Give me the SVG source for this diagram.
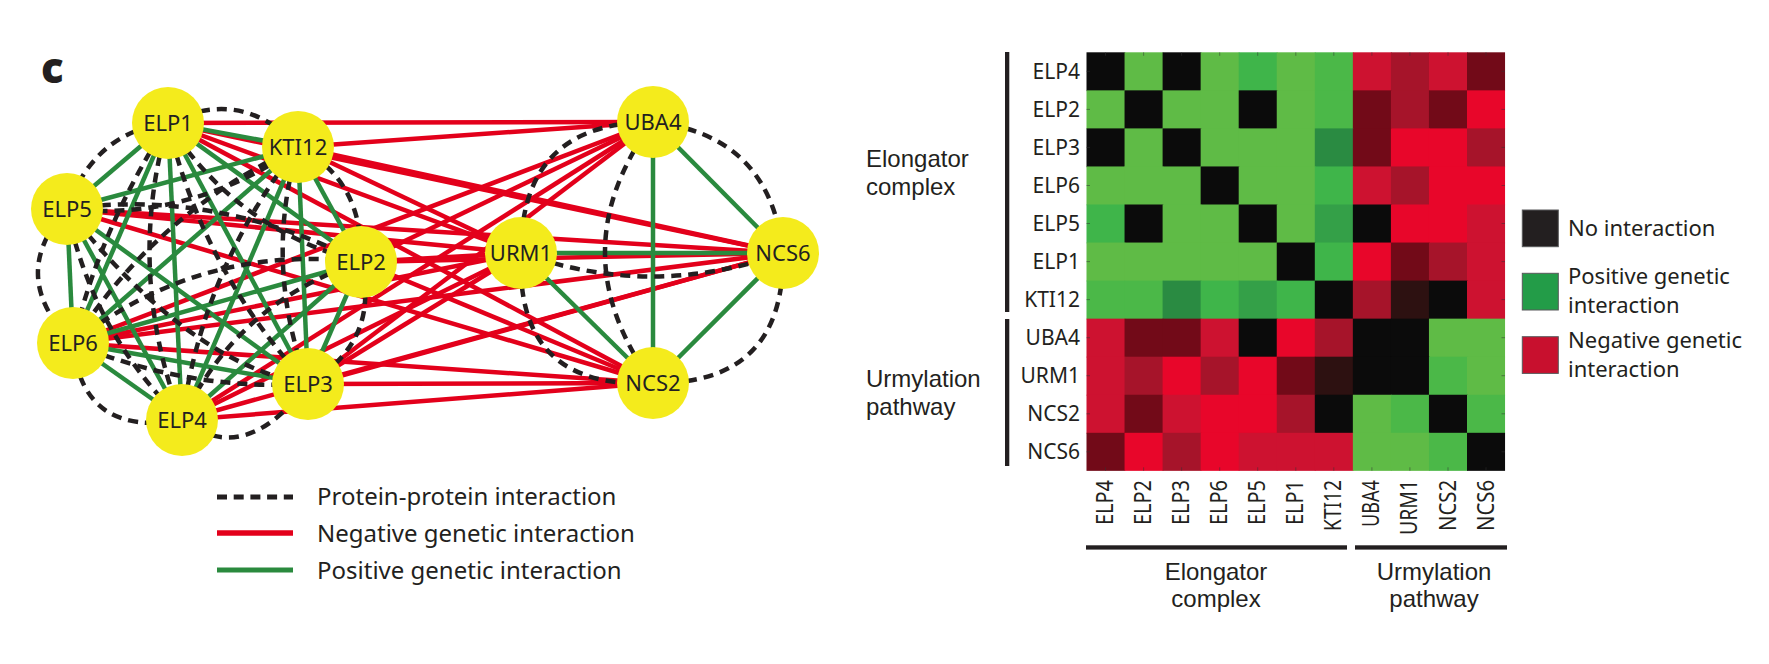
<svg xmlns="http://www.w3.org/2000/svg" width="1769" height="664" viewBox="0 0 1769 664">
<style>
text{font-family:"Noto Sans","Liberation Sans",sans-serif;fill:#231f20}
.nl{font-size:22px;text-anchor:middle}
.lg{font-size:24px}
.rl{font-size:21px;text-anchor:end}
.cl{font-size:23px;text-anchor:end}
.gl{font-family:"Liberation Sans","Noto Sans",sans-serif;font-size:24px}
.ll{font-size:22px}
circle.n{fill:#f4eb1c}
.red line{stroke:#e3001b;stroke-width:4.5}
.grn line{stroke:#2a8a3e;stroke-width:4.5}
.ppi path{fill:none;stroke:#231f20;stroke-width:4.5;stroke-dasharray:10 7}
.k{fill:#0b0b0b}.g{fill:#5fbb46}.gb{fill:#3fb54a}.gm{fill:#4bb848}.gd{fill:#2a8b42}.gd2{fill:#34a048}
.r1{fill:#e8062a}.r2{fill:#cd1230}.r3{fill:#a6142a}.r4{fill:#720a18}.r5{fill:#2d1111}
.bar{fill:#231f20}
.tk line{stroke:#333;stroke-width:1;opacity:.5}
</style>

<text x="41" y="83" style="font-size:42px;font-weight:900">c</text>

<g id="connectors">
<g class="red">
<line x1="168" y1="123" x2="653" y2="122"/><line x1="168" y1="123" x2="521" y2="253"/><line x1="168" y1="123" x2="783" y2="253"/><line x1="168" y1="123" x2="653" y2="383"/>
<line x1="298" y1="147" x2="653" y2="122"/><line x1="298" y1="147" x2="521" y2="253"/><line x1="298" y1="147" x2="783" y2="253"/>
<line x1="67" y1="209" x2="521" y2="253"/><line x1="67" y1="209" x2="783" y2="253"/><line x1="67" y1="209" x2="653" y2="383"/>
<line x1="361" y1="262" x2="653" y2="122"/><line x1="361" y1="262" x2="521" y2="253"/><line x1="361" y1="262" x2="783" y2="253"/><line x1="361" y1="262" x2="653" y2="383"/>
<line x1="73" y1="343" x2="653" y2="122"/><line x1="73" y1="343" x2="521" y2="253"/><line x1="73" y1="343" x2="783" y2="253"/><line x1="73" y1="343" x2="653" y2="383"/>
<line x1="308" y1="384" x2="653" y2="122"/><line x1="308" y1="384" x2="521" y2="253"/><line x1="308" y1="384" x2="783" y2="253"/><line x1="308" y1="384" x2="653" y2="383"/>
<line x1="182" y1="420" x2="653" y2="122"/><line x1="182" y1="420" x2="521" y2="253"/><line x1="182" y1="420" x2="783" y2="253"/><line x1="182" y1="420" x2="653" y2="383"/>
</g>
<g class="grn">
<line x1="168" y1="123" x2="298" y2="147"/><line x1="168" y1="123" x2="67" y2="209"/><line x1="168" y1="123" x2="361" y2="262"/><line x1="168" y1="123" x2="73" y2="343"/><line x1="168" y1="123" x2="308" y2="384"/><line x1="168" y1="123" x2="182" y2="420"/>
<line x1="298" y1="147" x2="67" y2="209"/><line x1="298" y1="147" x2="361" y2="262"/><line x1="298" y1="147" x2="73" y2="343"/><line x1="298" y1="147" x2="308" y2="384"/><line x1="298" y1="147" x2="182" y2="420"/>
<line x1="67" y1="209" x2="73" y2="343"/><line x1="67" y1="209" x2="308" y2="384"/><line x1="67" y1="209" x2="182" y2="420"/>
<line x1="361" y1="262" x2="73" y2="343"/><line x1="361" y1="262" x2="308" y2="384"/><line x1="361" y1="262" x2="182" y2="420"/>
<line x1="73" y1="343" x2="308" y2="384"/><line x1="73" y1="343" x2="182" y2="420"/>
<line x1="653" y1="122" x2="653" y2="383"/><line x1="653" y1="122" x2="783" y2="253"/><line x1="521" y1="253" x2="783" y2="253"/><line x1="521" y1="253" x2="653" y2="383"/><line x1="653" y1="383" x2="783" y2="253"/>
</g>
<g class="ppi">
<path d="M168,123 Q242,86 298,147"/>
<path d="M168,123 Q94,132 67,209"/>
<path d="M67,209 Q6,276 73,343"/>
<path d="M73,343 Q82,438 182,420"/>
<path d="M182,420 Q245,468 308,384"/>
<path d="M308,384 Q381,341 361,262"/>
<path d="M298,147 Q364,180 361,262"/>
<path d="M168,123 Q125,272 182,420"/>
<path d="M168,123 Q100,228 73,343"/>
<path d="M168,123 Q203,272 308,384"/>
<path d="M168,123 Q237,231 361,262"/>
<path d="M298,147 Q203,268 182,420"/>
<path d="M298,147 Q263,265 308,384"/>
<path d="M298,147 Q156,212 73,343"/>
<path d="M298,147 Q190,222 67,209"/>
<path d="M67,209 Q214,188 361,262"/>
<path d="M67,209 Q190,365 308,384"/>
<path d="M67,209 Q92,332 182,420"/>
<path d="M73,343 Q200,243 361,262"/>
<path d="M73,343 Q186,391 308,384"/>
<path d="M361,262 Q237,302 182,420"/>
<path d="M653,122 Q521,122 521,253"/>
<path d="M653,122 Q557,252 653,383"/>
<path d="M653,122 Q770,135 783,253"/>
<path d="M521,253 Q652,300 783,253"/>
<path d="M521,253 Q515,390 653,383"/>
<path d="M653,383 Q785,385 783,253"/>
</g>
</g>

<g id="ELP1"><circle class="n" cx="168" cy="123" r="36"/><text class="nl" x="168" y="131">ELP1</text></g>
<g id="KTI12"><circle class="n" cx="298" cy="147" r="36"/><text class="nl" x="298" y="155">KTI12</text></g>
<g id="ELP5"><circle class="n" cx="67" cy="209" r="36"/><text class="nl" x="67" y="217">ELP5</text></g>
<g id="ELP2"><circle class="n" cx="361" cy="262" r="36"/><text class="nl" x="361" y="270">ELP2</text></g>
<g id="ELP6"><circle class="n" cx="73" cy="343" r="36"/><text class="nl" x="73" y="351">ELP6</text></g>
<g id="ELP3"><circle class="n" cx="308" cy="384" r="36"/><text class="nl" x="308" y="392">ELP3</text></g>
<g id="ELP4"><circle class="n" cx="182" cy="420" r="36"/><text class="nl" x="182" y="428">ELP4</text></g>
<g id="UBA4"><circle class="n" cx="653" cy="122" r="36"/><text class="nl" x="653" y="130">UBA4</text></g>
<g id="URM1"><circle class="n" cx="521" cy="253" r="36"/><text class="nl" x="521" y="261">URM1</text></g>
<g id="NCS6"><circle class="n" cx="783" cy="253" r="36"/><text class="nl" x="783" y="261">NCS6</text></g>
<g id="NCS2"><circle class="n" cx="653" cy="383" r="36"/><text class="nl" x="653" y="391">NCS2</text></g>

<g id="network-legend">
<line x1="217" y1="497" x2="293" y2="497" stroke="#231f20" stroke-width="5" stroke-dasharray="10 6.7"/>
<line x1="217" y1="533" x2="293" y2="533" stroke="#e3001b" stroke-width="5.5"/>
<line x1="217" y1="570" x2="293" y2="570" stroke="#2a8a3e" stroke-width="5"/>
<text class="lg" x="317" y="505">Protein-protein interaction</text>
<text class="lg" x="317" y="542">Negative genetic interaction</text>
<text class="lg" x="317" y="579">Positive genetic interaction</text>
</g>

<g id="heatmap">
<g transform="translate(1086.5,52.3) scale(38.05)">
<rect class="k" x="0" y="0" width="1.02" height="1.02"/><rect class="g" x="1" y="0" width="1.02" height="1.02"/><rect class="k" x="2" y="0" width="1.02" height="1.02"/><rect class="g" x="3" y="0" width="1.02" height="1.02"/><rect class="gb" x="4" y="0" width="1.02" height="1.02"/><rect class="g" x="5" y="0" width="1.02" height="1.02"/><rect class="gm" x="6" y="0" width="1.02" height="1.02"/><rect class="r2" x="7" y="0" width="1.02" height="1.02"/><rect class="r3" x="8" y="0" width="1.02" height="1.02"/><rect class="r2" x="9" y="0" width="1.02" height="1.02"/><rect class="r4" x="10" y="0" width="1" height="1.02"/>
<rect class="g" x="0" y="1" width="1.02" height="1.02"/><rect class="k" x="1" y="1" width="1.02" height="1.02"/><rect class="g" x="2" y="1" width="1.02" height="1.02"/><rect class="g" x="3" y="1" width="1.02" height="1.02"/><rect class="k" x="4" y="1" width="1.02" height="1.02"/><rect class="g" x="5" y="1" width="1.02" height="1.02"/><rect class="gm" x="6" y="1" width="1.02" height="1.02"/><rect class="r4" x="7" y="1" width="1.02" height="1.02"/><rect class="r3" x="8" y="1" width="1.02" height="1.02"/><rect class="r4" x="9" y="1" width="1.02" height="1.02"/><rect class="r1" x="10" y="1" width="1" height="1.02"/>
<rect class="k" x="0" y="2" width="1.02" height="1.02"/><rect class="g" x="1" y="2" width="1.02" height="1.02"/><rect class="k" x="2" y="2" width="1.02" height="1.02"/><rect class="g" x="3" y="2" width="1.02" height="1.02"/><rect class="g" x="4" y="2" width="1.02" height="1.02"/><rect class="g" x="5" y="2" width="1.02" height="1.02"/><rect class="gd" x="6" y="2" width="1.02" height="1.02"/><rect class="r4" x="7" y="2" width="1.02" height="1.02"/><rect class="r1" x="8" y="2" width="1.02" height="1.02"/><rect class="r1" x="9" y="2" width="1.02" height="1.02"/><rect class="r3" x="10" y="2" width="1" height="1.02"/>
<rect class="g" x="0" y="3" width="1.02" height="1.02"/><rect class="g" x="1" y="3" width="1.02" height="1.02"/><rect class="g" x="2" y="3" width="1.02" height="1.02"/><rect class="k" x="3" y="3" width="1.02" height="1.02"/><rect class="g" x="4" y="3" width="1.02" height="1.02"/><rect class="g" x="5" y="3" width="1.02" height="1.02"/><rect class="gb" x="6" y="3" width="1.02" height="1.02"/><rect class="r2" x="7" y="3" width="1.02" height="1.02"/><rect class="r3" x="8" y="3" width="1.02" height="1.02"/><rect class="r1" x="9" y="3" width="1.02" height="1.02"/><rect class="r1" x="10" y="3" width="1" height="1.02"/>
<rect class="gb" x="0" y="4" width="1.02" height="1.02"/><rect class="k" x="1" y="4" width="1.02" height="1.02"/><rect class="g" x="2" y="4" width="1.02" height="1.02"/><rect class="g" x="3" y="4" width="1.02" height="1.02"/><rect class="k" x="4" y="4" width="1.02" height="1.02"/><rect class="g" x="5" y="4" width="1.02" height="1.02"/><rect class="gd2" x="6" y="4" width="1.02" height="1.02"/><rect class="k" x="7" y="4" width="1.02" height="1.02"/><rect class="r1" x="8" y="4" width="1.02" height="1.02"/><rect class="r1" x="9" y="4" width="1.02" height="1.02"/><rect class="r2" x="10" y="4" width="1" height="1.02"/>
<rect class="g" x="0" y="5" width="1.02" height="1.02"/><rect class="g" x="1" y="5" width="1.02" height="1.02"/><rect class="g" x="2" y="5" width="1.02" height="1.02"/><rect class="g" x="3" y="5" width="1.02" height="1.02"/><rect class="g" x="4" y="5" width="1.02" height="1.02"/><rect class="k" x="5" y="5" width="1.02" height="1.02"/><rect class="gb" x="6" y="5" width="1.02" height="1.02"/><rect class="r1" x="7" y="5" width="1.02" height="1.02"/><rect class="r4" x="8" y="5" width="1.02" height="1.02"/><rect class="r3" x="9" y="5" width="1.02" height="1.02"/><rect class="r2" x="10" y="5" width="1" height="1.02"/>
<rect class="gm" x="0" y="6" width="1.02" height="1.02"/><rect class="gm" x="1" y="6" width="1.02" height="1.02"/><rect class="gd" x="2" y="6" width="1.02" height="1.02"/><rect class="gb" x="3" y="6" width="1.02" height="1.02"/><rect class="gd2" x="4" y="6" width="1.02" height="1.02"/><rect class="gb" x="5" y="6" width="1.02" height="1.02"/><rect class="k" x="6" y="6" width="1.02" height="1.02"/><rect class="r3" x="7" y="6" width="1.02" height="1.02"/><rect class="r5" x="8" y="6" width="1.02" height="1.02"/><rect class="k" x="9" y="6" width="1.02" height="1.02"/><rect class="r2" x="10" y="6" width="1" height="1.02"/>
<rect class="r2" x="0" y="7" width="1.02" height="1.02"/><rect class="r4" x="1" y="7" width="1.02" height="1.02"/><rect class="r4" x="2" y="7" width="1.02" height="1.02"/><rect class="r2" x="3" y="7" width="1.02" height="1.02"/><rect class="k" x="4" y="7" width="1.02" height="1.02"/><rect class="r1" x="5" y="7" width="1.02" height="1.02"/><rect class="r3" x="6" y="7" width="1.02" height="1.02"/><rect class="k" x="7" y="7" width="1.02" height="1.02"/><rect class="k" x="8" y="7" width="1.02" height="1.02"/><rect class="g" x="9" y="7" width="1.02" height="1.02"/><rect class="g" x="10" y="7" width="1" height="1.02"/>
<rect class="r2" x="0" y="8" width="1.02" height="1.02"/><rect class="r3" x="1" y="8" width="1.02" height="1.02"/><rect class="r1" x="2" y="8" width="1.02" height="1.02"/><rect class="r3" x="3" y="8" width="1.02" height="1.02"/><rect class="r1" x="4" y="8" width="1.02" height="1.02"/><rect class="r4" x="5" y="8" width="1.02" height="1.02"/><rect class="r5" x="6" y="8" width="1.02" height="1.02"/><rect class="k" x="7" y="8" width="1.02" height="1.02"/><rect class="k" x="8" y="8" width="1.02" height="1.02"/><rect class="gm" x="9" y="8" width="1.02" height="1.02"/><rect class="g" x="10" y="8" width="1" height="1.02"/>
<rect class="r2" x="0" y="9" width="1.02" height="1.02"/><rect class="r4" x="1" y="9" width="1.02" height="1.02"/><rect class="r2" x="2" y="9" width="1.02" height="1.02"/><rect class="r1" x="3" y="9" width="1.02" height="1.02"/><rect class="r1" x="4" y="9" width="1.02" height="1.02"/><rect class="r3" x="5" y="9" width="1.02" height="1.02"/><rect class="k" x="6" y="9" width="1.02" height="1.02"/><rect class="g" x="7" y="9" width="1.02" height="1.02"/><rect class="gm" x="8" y="9" width="1.02" height="1.02"/><rect class="k" x="9" y="9" width="1.02" height="1.02"/><rect class="gm" x="10" y="9" width="1" height="1.02"/>
<rect class="r4" x="0" y="10" width="1.02" height="1"/><rect class="r1" x="1" y="10" width="1.02" height="1"/><rect class="r3" x="2" y="10" width="1.02" height="1"/><rect class="r1" x="3" y="10" width="1.02" height="1"/><rect class="r2" x="4" y="10" width="1.02" height="1"/><rect class="r2" x="5" y="10" width="1.02" height="1"/><rect class="r2" x="6" y="10" width="1.02" height="1"/><rect class="g" x="7" y="10" width="1.02" height="1"/><rect class="g" x="8" y="10" width="1.02" height="1"/><rect class="gm" x="9" y="10" width="1.02" height="1"/><rect class="k" x="10" y="10" width="1" height="1"/>
</g>
<g class="tk">
<line x1="1086.5" y1="71.3" x2="1090" y2="71.3"/><line x1="1086.5" y1="109.4" x2="1090" y2="109.4"/><line x1="1086.5" y1="147.4" x2="1090" y2="147.4"/><line x1="1086.5" y1="185.5" x2="1090" y2="185.5"/><line x1="1086.5" y1="223.5" x2="1090" y2="223.5"/><line x1="1086.5" y1="261.6" x2="1090" y2="261.6"/><line x1="1086.5" y1="299.6" x2="1090" y2="299.6"/><line x1="1086.5" y1="337.7" x2="1090" y2="337.7"/><line x1="1086.5" y1="375.7" x2="1090" y2="375.7"/><line x1="1086.5" y1="413.8" x2="1090" y2="413.8"/><line x1="1086.5" y1="451.8" x2="1090" y2="451.8"/>
<line x1="1501.5" y1="71.3" x2="1505" y2="71.3"/><line x1="1501.5" y1="109.4" x2="1505" y2="109.4"/><line x1="1501.5" y1="147.4" x2="1505" y2="147.4"/><line x1="1501.5" y1="185.5" x2="1505" y2="185.5"/><line x1="1501.5" y1="223.5" x2="1505" y2="223.5"/><line x1="1501.5" y1="261.6" x2="1505" y2="261.6"/><line x1="1501.5" y1="299.6" x2="1505" y2="299.6"/><line x1="1501.5" y1="337.7" x2="1505" y2="337.7"/><line x1="1501.5" y1="375.7" x2="1505" y2="375.7"/><line x1="1501.5" y1="413.8" x2="1505" y2="413.8"/><line x1="1501.5" y1="451.8" x2="1505" y2="451.8"/>
<line x1="1105.5" y1="52.3" x2="1105.5" y2="55.8"/><line x1="1143.6" y1="52.3" x2="1143.6" y2="55.8"/><line x1="1181.6" y1="52.3" x2="1181.6" y2="55.8"/><line x1="1219.7" y1="52.3" x2="1219.7" y2="55.8"/><line x1="1257.7" y1="52.3" x2="1257.7" y2="55.8"/><line x1="1295.8" y1="52.3" x2="1295.8" y2="55.8"/><line x1="1333.8" y1="52.3" x2="1333.8" y2="55.8"/><line x1="1371.9" y1="52.3" x2="1371.9" y2="55.8"/><line x1="1409.9" y1="52.3" x2="1409.9" y2="55.8"/><line x1="1448" y1="52.3" x2="1448" y2="55.8"/><line x1="1486" y1="52.3" x2="1486" y2="55.8"/>
<line x1="1105.5" y1="467.3" x2="1105.5" y2="470.8"/><line x1="1143.6" y1="467.3" x2="1143.6" y2="470.8"/><line x1="1181.6" y1="467.3" x2="1181.6" y2="470.8"/><line x1="1219.7" y1="467.3" x2="1219.7" y2="470.8"/><line x1="1257.7" y1="467.3" x2="1257.7" y2="470.8"/><line x1="1295.8" y1="467.3" x2="1295.8" y2="470.8"/><line x1="1333.8" y1="467.3" x2="1333.8" y2="470.8"/><line x1="1371.9" y1="467.3" x2="1371.9" y2="470.8"/><line x1="1409.9" y1="467.3" x2="1409.9" y2="470.8"/><line x1="1448" y1="467.3" x2="1448" y2="470.8"/><line x1="1486" y1="467.3" x2="1486" y2="470.8"/>
</g>
</g>

<g id="row-labels">
<text class="rl" x="1080" y="78.8">ELP4</text>
<text class="rl" x="1080" y="116.9">ELP2</text>
<text class="rl" x="1080" y="154.9">ELP3</text>
<text class="rl" x="1080" y="193">ELP6</text>
<text class="rl" x="1080" y="231">ELP5</text>
<text class="rl" x="1080" y="269.1">ELP1</text>
<text class="rl" x="1080" y="307.1">KTI12</text>
<text class="rl" x="1080" y="345.2">UBA4</text>
<text class="rl" x="1080" y="383.2">URM1</text>
<text class="rl" x="1080" y="421.3">NCS2</text>
<text class="rl" x="1080" y="459.3">NCS6</text>
</g>

<g id="col-labels">
<text class="cl" transform="translate(1113,480) rotate(-90)" textLength="45" lengthAdjust="spacingAndGlyphs">ELP4</text>
<text class="cl" transform="translate(1151.1,480) rotate(-90)" textLength="45" lengthAdjust="spacingAndGlyphs">ELP2</text>
<text class="cl" transform="translate(1189.1,480) rotate(-90)" textLength="45" lengthAdjust="spacingAndGlyphs">ELP3</text>
<text class="cl" transform="translate(1227.2,480) rotate(-90)" textLength="45" lengthAdjust="spacingAndGlyphs">ELP6</text>
<text class="cl" transform="translate(1265.2,480) rotate(-90)" textLength="45" lengthAdjust="spacingAndGlyphs">ELP5</text>
<text class="cl" transform="translate(1303.3,480) rotate(-90)" textLength="45" lengthAdjust="spacingAndGlyphs">ELP1</text>
<text class="cl" transform="translate(1341.3,480) rotate(-90)" textLength="51" lengthAdjust="spacingAndGlyphs">KTI12</text>
<text class="cl" transform="translate(1379.4,480) rotate(-90)" textLength="47" lengthAdjust="spacingAndGlyphs">UBA4</text>
<text class="cl" transform="translate(1417.4,480) rotate(-90)" textLength="55" lengthAdjust="spacingAndGlyphs">URM1</text>
<text class="cl" transform="translate(1455.5,480) rotate(-90)" textLength="51" lengthAdjust="spacingAndGlyphs">NCS2</text>
<text class="cl" transform="translate(1493.5,480) rotate(-90)" textLength="51" lengthAdjust="spacingAndGlyphs">NCS6</text>
</g>

<g id="group-labels">
<rect class="bar" x="1005" y="52" width="4.3" height="260"/>
<rect class="bar" x="1005" y="319" width="4.3" height="147"/>
<rect class="bar" x="1086" y="545.3" width="261" height="4.3"/>
<rect class="bar" x="1355" y="545.3" width="152" height="4.3"/>
<text class="gl" x="866" y="167">Elongator</text>
<text class="gl" x="866" y="195">complex</text>
<text class="gl" x="866" y="387">Urmylation</text>
<text class="gl" x="866" y="415">pathway</text>
<text class="gl" x="1216" y="580" text-anchor="middle">Elongator</text>
<text class="gl" x="1216" y="607" text-anchor="middle">complex</text>
<text class="gl" x="1434" y="580" text-anchor="middle">Urmylation</text>
<text class="gl" x="1434" y="607" text-anchor="middle">pathway</text>
</g>

<g id="heatmap-legend">
<rect x="1522.3" y="210" width="36" height="36.7" fill="#231f20" stroke="#58595b" stroke-width="1"/>
<rect x="1522.3" y="273.3" width="36" height="36.7" fill="#239c48" stroke="#58595b" stroke-width="1"/>
<rect x="1522.3" y="336.7" width="36" height="36.7" fill="#c8102e" stroke="#58595b" stroke-width="1"/>
<text class="ll" x="1568" y="236">No interaction</text>
<text class="ll" x="1568" y="284">Positive genetic</text>
<text class="ll" x="1568" y="313">interaction</text>
<text class="ll" x="1568" y="348">Negative genetic</text>
<text class="ll" x="1568" y="377">interaction</text>
</g>
</svg>
